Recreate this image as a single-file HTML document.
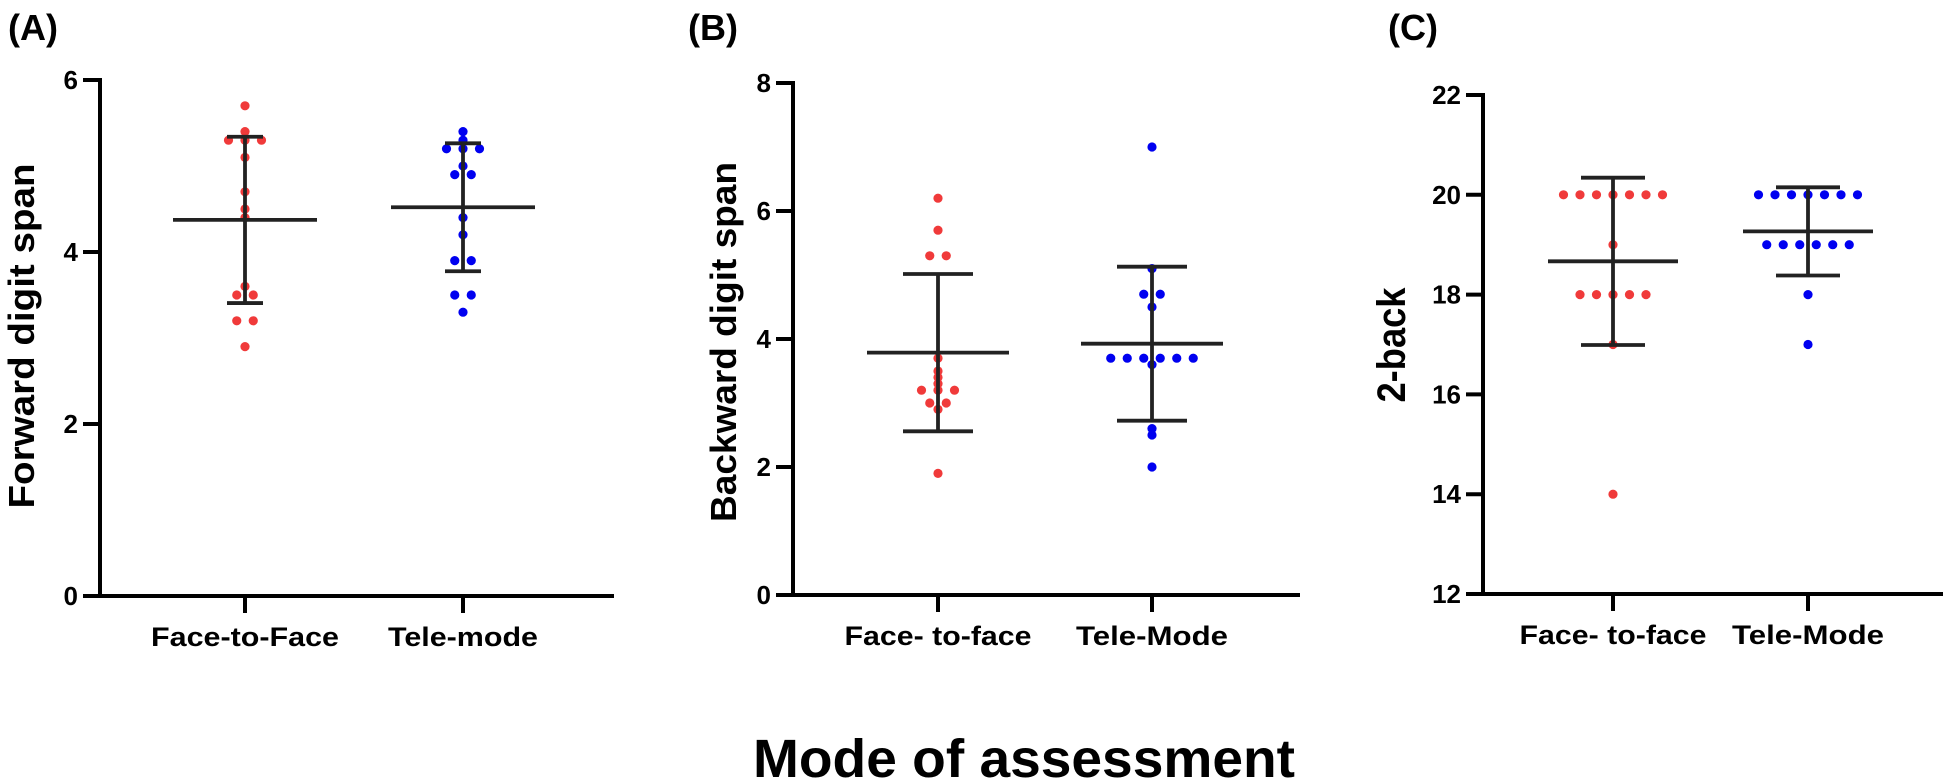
<!DOCTYPE html>
<html><head><meta charset="utf-8"><style>
html,body{margin:0;padding:0;background:#fff;}
svg{display:block;font-family:"Liberation Sans",Arial,sans-serif;font-weight:bold;}
</style></head><body>
<svg id="chart" width="1950" height="784" viewBox="0 0 1950 784" xmlns="http://www.w3.org/2000/svg">
<text x="8" y="40" font-size="36">(A)</text>
<text x="688" y="40" font-size="36">(B)</text>
<text x="1388" y="40" font-size="36">(C)</text>
<text x="753" y="777" font-size="54" textLength="542" lengthAdjust="spacingAndGlyphs">Mode of assessment</text>
</svg>
<script>
const categoriesA = ["Face-to-Face","Tele-mode"];
const categoriesB = ["Face- to-face","Tele-Mode"];
const categoriesC = ["Face- to-face","Tele-Mode"];
const aFace = [5.7,5.4,5.3,5.3,5.3,5.1,4.7,4.5,4.4,3.6,3.5,3.5,3.2,3.2,2.9];
const aTele = [5.4,5.3,5.2,5.2,5.2,5.0,4.9,4.9,4.4,4.2,3.9,3.9,3.5,3.5,3.3];
const bFace = [6.2,5.7,5.3,5.3,3.7,3.5,3.4,3.3,3.2,3.2,3.2,3.0,3.0,2.9,1.9];
const bTele = [7.0,5.1,4.7,4.7,4.5,3.7,3.7,3.7,3.7,3.7,3.7,3.6,2.6,2.5,2.0];
const cFace = [20,20,20,20,20,20,20,19,18,18,18,18,18,17,14];
const cTele = [20,20,20,20,20,20,20,19,19,19,19,19,19,18,17];
const ticksA = [0,2,4,6];
const ticksB = [0,2,4,6,8];
const ticksC = [12,14,16,18,20,22];

const NS="http://www.w3.org/2000/svg";
const svg=document.getElementById('chart');
function el(tag,attrs,parent){const e=document.createElementNS(NS,tag);for(const k in attrs)e.setAttribute(k,attrs[k]);(parent||svg).appendChild(e);return e;}

function panel(cfg){
  const g=el('g',{});
  
  
  const y=v=>cfg.y0+(v-cfg.min)/(cfg.max-cfg.min)*(cfg.y1-cfg.y0);
  const ya=el('line',{x1:cfg.ax,y1:y(cfg.max)-2,x2:cfg.ax,y2:cfg.y0+2,stroke:'#000','stroke-width':4},g);
  
  
  cfg.ticks.forEach(t=>{
    const tl=el('line',{x1:cfg.ax-17,y1:y(t),x2:cfg.ax,y2:y(t),stroke:'#000','stroke-width':4},g);
    
    
    const tx=el('text',{x:cfg.ax-22,y:y(t)+9,'font-size':26,'text-anchor':'end'},g);
    tx.textContent=t;
    
    
  });
  const xa=el('line',{x1:cfg.ax-17,y1:cfg.y0,x2:cfg.xend,y2:cfg.y0,stroke:'#000','stroke-width':4},g);
  
  
  const yt=el('text',{transform:`translate(${cfg.ytx},${cfg.yty}) rotate(-90)`,'font-size':cfg.ytfs,'text-anchor':'middle',textLength:cfg.ytlen,lengthAdjust:'spacingAndGlyphs'},g);
  yt.textContent=cfg.ytitle;
  
  
  cfg.series.forEach((s,i)=>{
    const cx=cfg.cx[i];
    const tk=el('line',{x1:cx,y1:cfg.y0,x2:cx,y2:cfg.y0+17,stroke:'#000','stroke-width':4},g);
    
    
    const lb=el('text',{x:cx,y:cfg.y0+50,'font-size':27,'text-anchor':'middle',textLength:cfg.lablen[i],lengthAdjust:'spacingAndGlyphs'},g);
    lb.textContent=cfg.cats[i];
    
    
    const groups={};
    s.forEach(v=>{groups[v]=(groups[v]||0)+1;});
    Object.keys(groups).forEach(k=>{
      const n=groups[k];
      for(let j=0;j<n;j++){
        const c=el('circle',{cx:cx+(j-(n-1)/2)*16.5,cy:y(+k),r:4.6,fill:cfg.colors[i]},g);
        
        
      }
    });
    const mean=s.reduce((a,b)=>a+b,0)/s.length;
    const sd=Math.sqrt(s.reduce((a,b)=>a+(b-mean)*(b-mean),0)/(s.length-1));
    const st={stroke:'#222','stroke-width':3.8};
    const v=el('line',Object.assign({x1:cx,y1:y(mean+sd),x2:cx,y2:y(mean-sd)},st),g);
    
    
    [mean+sd,mean-sd].forEach(val=>{
      const cap=el('line',Object.assign({x1:cx-cfg.cap,y1:y(val),x2:cx+cfg.cap,y2:y(val)},st),g);
      
      
    });
    const m=el('line',Object.assign({x1:cx-cfg.mw,y1:y(mean),x2:cx+cfg.mw,y2:y(mean)},st),g);
    
    
  });
}
panel({name:'panel-a',ax:100,y0:596,y1:80,min:0,max:6,ticks:ticksA,xend:614,cx:[245,463],cats:categoriesA,lablen:[188,150],series:[aFace,aTele],colors:['#f03a3a','#0000f0'],cap:18,mw:72,ytitle:'Forward digit span',ytfs:36,ytlen:345,ytx:34,yty:336});
panel({name:'panel-b',ax:793,y0:595,y1:83,min:0,max:8,ticks:ticksB,xend:1300,cx:[938,1152],cats:categoriesB,lablen:[187,152],series:[bFace,bTele],colors:['#f03a3a','#0000f0'],cap:35,mw:71,ytitle:'Backward digit span',ytfs:36,ytlen:360,ytx:736,yty:342});
panel({name:'panel-c',ax:1483,y0:594,y1:95,min:12,max:22,ticks:ticksC,xend:1943,cx:[1613,1808],cats:categoriesC,lablen:[187,152],series:[cFace,cTele],colors:['#f03a3a','#0000f0'],cap:32,mw:65,ytitle:'2-back',ytfs:40,ytlen:115,ytx:1405,yty:345});
</script>
</body></html>
